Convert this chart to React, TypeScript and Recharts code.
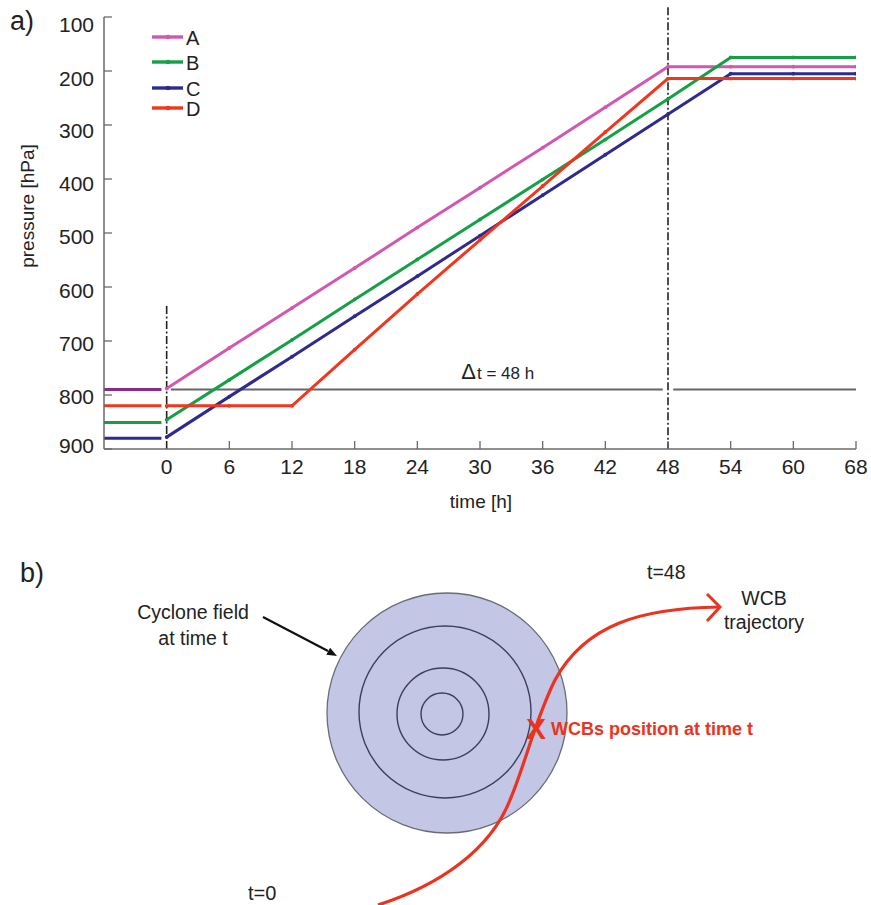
import React from 'react';
import {
  LineChart, Line, XAxis, YAxis, ReferenceLine, ReferenceDot, Legend,
} from 'recharts';

const FONT = '"Liberation Sans", Arial, sans-serif';

// time axis (h); the last tick of the original is printed as "68"
const times = [0, 6, 12, 18, 24, 30, 36, 42, 48, 54, 60, 66];
const xTickLabels = ['0', '6', '12', '18', '24', '30', '36', '42', '48', '54', '60', '68'];
const yTicks = [100, 200, 300, 400, 500, 600, 700, 800, 900];

// pressure [hPa] of each trajectory
const seriesA = [788, 713, 639, 565, 490, 416, 342, 267, 192, 192, 192, 192];
const seriesB = [846, 772, 698, 623, 549, 475, 401, 327, 252, 175, 175, 175];
const seriesC = [878, 803, 729, 654, 580, 505, 430, 355, 280, 205, 205, 205];
const seriesD = [820, 820, 820, 716, 613, 513, 413, 313, 214, 214, 214, 214];

// level before t=0
const preTimes = [-6, -0.5];
const preLevels = [790, 851, 880, 820];

const names = ['A', 'B', 'C', 'D'];
const colors = ['#d257b1', '#14a046', '#2f2a8e', '#f2361e'];
const preColors = ['#8c2a88', '#14a046', '#2f2a8e', '#f2361e'];

const axisGrey = '#6a6a6a';
const dashDot = '8 2.5 2 2.5';

const data = times.map((t, i) => ({
  t,
  A: seriesA[i],
  B: seriesB[i],
  C: seriesC[i],
  D: seriesD[i],
}));

// small nudges so the y labels sit like the original's
const yLabelNudge = [7, 7, 5, 4, 3, 3.5, 2.5, 1, -4];
const legendRows = [12, 37, 63, 83];

function XTick({ x, y, payload }: any) {
  const i = times.indexOf(payload.value);
  return (
    <g>
      {i > 0 && <line x1={x} x2={x} y1={y} y2={y - 8} stroke={axisGrey} strokeWidth={1.3} />}
      <text x={x} y={y + 25} textAnchor="middle" fontSize={21} fill="#222" fontFamily={FONT}>
        {xTickLabels[i]}
      </text>
    </g>
  );
}

function YTick({ x, y, payload, index }: any) {
  return (
    <g>
      <line x1={x} x2={x + 8} y1={y} y2={y} stroke={axisGrey} strokeWidth={1.3} />
      <text x={x - 10} y={y + 7.5 + yLabelNudge[index]} textAnchor="end" fontSize={21} fill="#222" fontFamily={FONT}>
        {payload.value}
      </text>
    </g>
  );
}

function LegendBox({ payload }: any) {
  const items = (payload || []).filter((p: any) => names.includes(p.value));
  return (
    <svg width={70} height={100}>
      {items.map((p: any, i: number) => {
        const y = legendRows[i];
        return (
          <g key={p.value}>
            <line x1={4} x2={35} y1={y} y2={y} stroke={p.color} strokeWidth={3.4} />
            <circle cx={20} cy={y} r={2.3} fill={p.color} />
            <text x={38} y={y + 8} fontSize={20} fill="#222" fontFamily={FONT}>{p.value}</text>
          </g>
        );
      })}
    </svg>
  );
}

function DeltaLabel({ cx, cy }: any) {
  return (
    <text x={cx} y={cy - 11} textAnchor="middle" fill="#222" fontFamily={FONT}>
      <tspan fontSize={22}>Δ</tspan>
      <tspan fontSize={17} dx={1}>t = 48 h</tspan>
    </text>
  );
}

function PanelB() {
  const red = '#ea3420';
  return (
    <svg width={871} height={385} style={{ position: 'absolute', left: 0, top: 520 }} fontFamily={FONT}>
      <g transform="translate(0,-520)">
        <text x={20} y={582} fontSize={27} fill="#222">b)</text>

        <text x={193} y={619} fontSize={19.5} textAnchor="middle" fill="#222">Cyclone field</text>
        <text x={193} y={645} fontSize={19.5} textAnchor="middle" fill="#222">at time t</text>
        <line x1={263} y1={617} x2={328} y2={651} stroke="#111" strokeWidth={2.2} />
        <polygon points="337,656 326.3,654.8 330.1,647.8" fill="#111" />

        <circle cx={447} cy={713} r={120} fill="#c4c6e5" stroke="#6b6b78" strokeWidth={1.3} />
        <circle cx={445} cy={712} r={86} fill="none" stroke="#3c3f5c" strokeWidth={1.4} />
        <circle cx={443} cy={714} r={46} fill="none" stroke="#3c3f5c" strokeWidth={1.4} />
        <circle cx={442} cy={714} r={21} fill="none" stroke="#3c3f5c" strokeWidth={1.4} />

        <path
          d="M 378 905 C 440 885, 490 850, 510 800 C 525 765, 535 720, 555 680 C 585 625, 640 608, 720 607"
          stroke={red} strokeWidth={3.2} fill="none"
        />
        <polyline points="707,594 720,607 707,621" stroke={red} strokeWidth={3} fill="none" />

        <text x={536} y={739} fontSize={30} fontWeight="bold" textAnchor="middle" fill={red}>X</text>
        <text x={551} y={735} fontSize={18} fontWeight="bold" fill={red}>WCBs position at time t</text>

        <text x={647} y={579} fontSize={19.5} fill="#222">t=48</text>
        <text x={764} y={605} fontSize={19.5} textAnchor="middle" fill="#222">WCB</text>
        <text x={764} y={629} fontSize={19.5} textAnchor="middle" fill="#222">trajectory</text>
        <text x={248} y={900} fontSize={20} fill="#222">t=0</text>
      </g>
    </svg>
  );
}

export default function App() {
  return (
    <div style={{ position: 'absolute', left: 0, top: 0, width: 871, height: 905, background: '#fff', fontFamily: FONT }}>
      <LineChart
        width={871}
        height={520}
        data={data}
        margin={{ top: 17, right: 15, left: 40, bottom: 0 }}
      >
        <XAxis
          type="number"
          dataKey="t"
          domain={[-6, 66]}
          allowDataOverflow
          ticks={times}
          interval={0}
          height={71}
          tickSize={0}
          tickMargin={0}
          tickLine={false}
          axisLine={{ stroke: axisGrey, strokeWidth: 1.5 }}
          tick={<XTick />}
        />
        <YAxis
          type="number"
          reversed
          domain={[100, 900]}
          allowDataOverflow
          ticks={yTicks}
          interval={0}
          width={64}
          tickSize={0}
          tickMargin={0}
          tickLine={false}
          axisLine={{ stroke: axisGrey, strokeWidth: 1.5 }}
          tick={<YTick />}
        />

        <ReferenceLine
          segment={[{ x: 0.4, y: 790 }, { x: 47.5, y: 790 }]}
          stroke="#666" strokeWidth={2}
        />
        <ReferenceLine
          segment={[{ x: 48.5, y: 790 }, { x: 66, y: 790 }]}
          stroke="#666" strokeWidth={2}
        />
        <ReferenceDot x={31.7} y={790} r={0} shape={<DeltaLabel />} />

        {preLevels.map((lvl, i) => (
          <Line
            key={'pre' + i}
            data={preTimes.map(t => ({ t, v: lvl }))}
            dataKey="v"
            stroke={preColors[i]}
            strokeWidth={3}
            dot={false}
            legendType="none"
            isAnimationActive={false}
          />
        ))}

        {names.map((k, i) => (
          <Line
            key={k}
            dataKey={k}
            name={k}
            stroke={colors[i]}
            strokeWidth={3}
            dot={{ r: 1.9, fill: colors[i], strokeWidth: 0 }}
            isAnimationActive={false}
          />
        ))}

        <ReferenceLine
          segment={[{ x: 0, y: 635 }, { x: 0, y: 900 }]}
          stroke="#222" strokeWidth={1.6} strokeDasharray={dashDot}
        />
        <ReferenceLine
          segment={[{ x: 48, y: 82 }, { x: 48, y: 900 }]}
          stroke="#222" strokeWidth={1.6} strokeDasharray={dashDot}
          ifOverflow="visible"
        />

        <Legend
          layout="vertical"
          align="center"
          verticalAlign="middle"
          content={<LegendBox />}
          wrapperStyle={{ position: 'absolute', left: 148, top: 25, width: 70, height: 100 }}
        />

        <text x={10} y={30} fontSize={27} fill="#222" fontFamily={FONT}>a)</text>
        <text x={481} y={508} fontSize={19} textAnchor="middle" fill="#222" fontFamily={FONT}>time [h]</text>
        <text
          x={34} y={206} fontSize={19} textAnchor="middle" fill="#222" fontFamily={FONT}
          transform="rotate(-90 34 206)"
        >
          pressure [hPa]
        </text>
      </LineChart>
      <PanelB />
    </div>
  );
}
